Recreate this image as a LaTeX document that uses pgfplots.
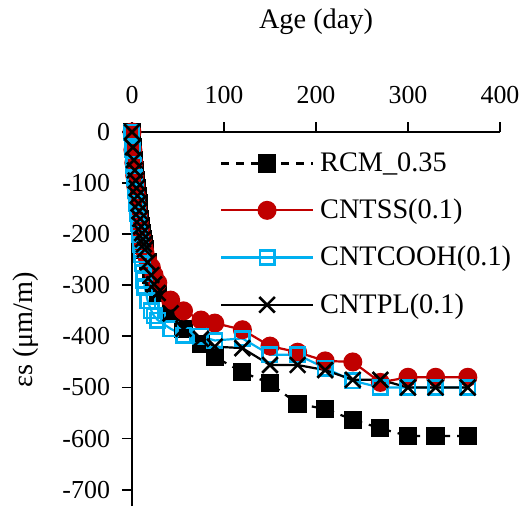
\documentclass[border=0pt]{standalone}
\usepackage{fontspec}
\setmainfont{Liberation Serif}
\usepackage{pgfplots}
\usepackage{pgfplotstable}
\pgfplotsset{compat=1.18}
\definecolor{cred}{HTML}{C00000}
\definecolor{cblue}{HTML}{00B0F0}

% shrinkage strain (um/m) vs age (day)
\pgfplotstableread{
day  rcm   ss    cooh  pl
0    0     0     0     0
1    -30   -35   -35   -30
2    -55   -60   -65   -55
3    -75   -85   -90   -75
4    -95   -105  -115  -95
5    -110  -125  -140  -110
6    -125  -145  -160  -125
7    -140  -160  -180  -140
8    -155  -175  -200  -155
9    -170  -190  -220  -170
10   -185  -200  -240  -185
11   -198  -210  -258  -198
12   -210  -220  -275  -210
13   -220  -228  -290  -220
14   -230  -235  -305  -230
17   -255  -250  -330  -255
21   -280  -265  -350  -280
24   -298  -280  -360  -298
28   -315  -295  -368  -315
42   -352  -329  -385  -355
56   -385  -350  -398  -385
75   -415  -368  -400  -405
90   -440  -374  -408  -420
120  -470  -387  -404  -423
150  -492  -419  -436  -456
180  -532  -431  -436  -456
210  -542  -448  -462  -466
240  -563  -450  -487  -485
270  -580  -490  -500  -485
300  -595  -480  -500  -500
330  -595  -480  -500  -500
365  -595  -480  -500  -500
}\strain

\begin{document}
\begin{tikzpicture}
\begin{axis}[
  scale only axis,
  width=184bp, height=187bp,
  xmin=0, xmax=400, ymin=-732, ymax=0,
  axis x line=top, axis y line=left,
  axis line style={-, line width=0.9bp},
  xtick={0,100,...,400}, ytick={-700,-600,...,0},
  tick align=outside, major tick length=5bp,
  tick style={line width=0.9bp, black},
  /pgf/number format/assume math mode=true,
  tick label style={font=\fontsize{13}{15}\selectfont},
  xticklabel shift=5.5bp, yticklabel shift=2.5bp,
  xlabel={Age (day)},
  xlabel style={font=\fontsize{14.2}{16}\selectfont, at={(axis description cs:0.5,1.295)}, anchor=center},
  ylabel={εs (μm/m)},
  ylabel style={font=\fontsize{14.2}{16}\selectfont, at={(axis description cs:-0.288,0.471)}, anchor=center},
  clip=false,
  legend cell align=left,
  legend style={draw=none, fill=none, font=\fontsize{14.2}{16}\selectfont,
    at={(axis description cs:0.238,0.962)}, anchor=north west,
    row sep=6.3bp, inner sep=0pt, nodes={inner sep=3bp}},
  legend image code/.code={\draw[mark repeat=2,mark phase=2,#1] plot coordinates {(0bp,0bp) (23bp,0bp) (46bp,0bp)};},
]
\addplot[black, dashed, dash pattern=on 4bp off 3.5bp, line width=1.1bp, mark=square*, mark size=4bp, mark options={solid, fill=black}] table[x=day, y=rcm] {\strain};
\addlegendentry{RCM\_0.35}
\addplot[cred, line width=1.1bp, mark=*, mark size=4.2bp, mark options={solid, fill=cred}] table[x=day, y=ss] {\strain};
\addlegendentry{CNTSS(0.1)}
\addplot[cblue, line width=1.1bp, mark=square, mark size=3.6bp, mark options={solid, line width=1.3bp}] table[x=day, y=cooh] {\strain};
\addlegendentry{CNTCOOH(0.1)}
\addplot[black, line width=1.1bp, mark=x, mark size=5.5bp, mark options={solid, line width=1.3bp}] table[x=day, y=pl] {\strain};
\addlegendentry{CNTPL(0.1)}
\coordinate (bbA) at (axis description cs:-0.3587,0);
\coordinate (bbB) at (axis description cs:1.0625,1.353);
\end{axis}
\pgfresetboundingbox
\path[use as bounding box] (bbA) rectangle (bbB);
\end{tikzpicture}
\end{document}
